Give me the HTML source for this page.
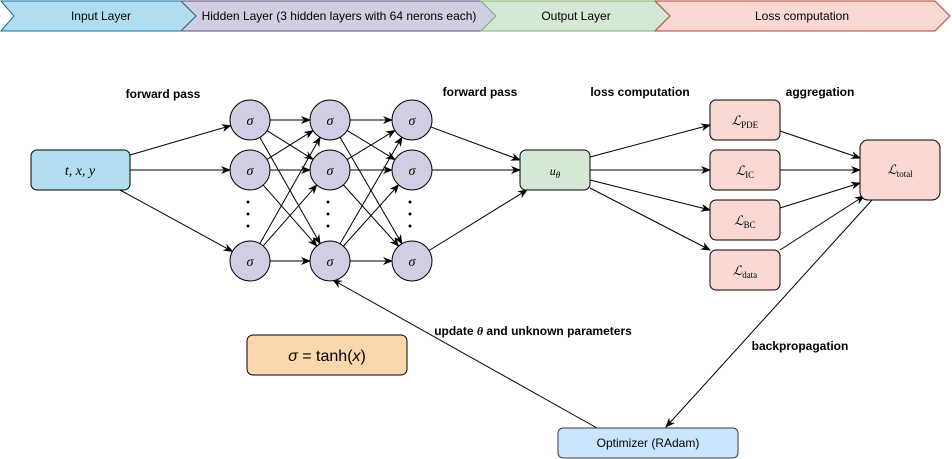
<!DOCTYPE html>
<html><head><meta charset="utf-8"><style>
body{margin:0;background:#fff;width:952px;height:459px;overflow:hidden}
svg{display:block}
text{font-family:"Liberation Sans",sans-serif}
.m{font-family:"Liberation Serif",serif;font-style:italic}
</style></head><body>
<svg id="s" width="952" height="459" viewBox="0 0 952 459" xmlns="http://www.w3.org/2000/svg">
<defs><marker id="a" markerWidth="10" markerHeight="8" refX="9" refY="4" orient="auto" markerUnits="userSpaceOnUse"><path d="M0,0 L10,4 L0,8 L3,4 z" fill="#000"/></marker></defs>
<polygon points="1,1 181,1 196,16 181,31 1,31 14,16" fill="#b1ddf0" stroke="#10739e"/>
<polygon points="181,1 481,1 496,16 481,31 181,31 196,16" fill="#d0cee2" stroke="#56517e"/>
<polygon points="481,1 655,1 670,16 655,31 481,31 496,16" fill="#d5e8d4" stroke="#82b366"/>
<polygon points="655,1 935,1 950,16 935,31 655,31 670,16" fill="#fad9d5" stroke="#ae4132"/>
<g font-size="12" text-anchor="middle" fill="#000">
<text x="101" y="20">Input Layer</text>
<text x="339" y="20">Hidden Layer (3 hidden layers with 64 nerons each)</text>
<text x="576" y="20">Output Layer</text>
<text x="802" y="20">Loss computation</text>
</g>
<g font-size="12" font-weight="bold" text-anchor="middle">
<text x="163" y="98">forward pass</text>
<text x="480" y="96">forward pass</text>
<text x="640" y="96">loss computation</text>
<text x="820" y="96">aggregation</text>
<text x="533" y="335">update <tspan class="m">θ</tspan> and unknown parameters</text>
<text x="800" y="350">backpropagation</text>
</g>
<g id="lines" stroke="#000" stroke-width="1" fill="none"></g>
<rect x="31" y="150" width="99" height="40" rx="6" fill="#b1ddf0" stroke="#000"/>
<text x="80" y="175" class="m" font-size="14" text-anchor="middle">t, x, y</text>
<rect x="520" y="150" width="70" height="40" rx="6" fill="#d5e8d4" stroke="#000"/>
<text x="555" y="175" class="m" font-size="12" text-anchor="middle">u<tspan font-size="9" dy="3">θ</tspan></text>
<g fill="#fad9d5" stroke="#000">
<rect x="710" y="100" width="70" height="40" rx="6"/>
<rect x="710" y="150" width="70" height="40" rx="6"/>
<rect x="710" y="200" width="70" height="40" rx="6"/>
<rect x="710" y="250" width="70" height="40" rx="6"/>
<rect x="860" y="140" width="80" height="60" rx="8"/>
</g>
<g font-size="13" text-anchor="middle">
<text x="745" y="125"><tspan class="m">ℒ</tspan><tspan font-size="9" dy="3" font-family="Liberation Serif">PDE</tspan></text>
<text x="745" y="175"><tspan class="m">ℒ</tspan><tspan font-size="9" dy="3" font-family="Liberation Serif">IC</tspan></text>
<text x="745" y="225"><tspan class="m">ℒ</tspan><tspan font-size="9" dy="3" font-family="Liberation Serif">BC</tspan></text>
<text x="745" y="275"><tspan class="m">ℒ</tspan><tspan font-size="9" dy="3" font-family="Liberation Serif">data</tspan></text>
<text x="900" y="174"><tspan class="m">ℒ</tspan><tspan font-size="9" dy="3" font-family="Liberation Serif">total</tspan></text>
</g>
<g id="nodes"></g>
<rect x="247" y="335" width="160" height="40" rx="6" fill="#fad7ac" stroke="#000"/>
<text x="327" y="361" font-size="16" text-anchor="middle" font-family="Liberation Serif"><tspan font-style="italic">σ</tspan> = tanh(<tspan font-style="italic">x</tspan>)</text>
<rect x="558" y="428" width="180" height="30" rx="5" fill="#cce5ff" stroke="#36393d"/>
<text x="648" y="447" font-size="12" text-anchor="middle">Optimizer (RAdam)</text>
</svg>
<script>
var L=document.getElementById('lines'),N=document.getElementById('nodes'),ns='http://www.w3.org/2000/svg';
function ln(x1,y1,x2,y2,arr){var e=document.createElementNS(ns,'line');e.setAttribute('x1',x1);e.setAttribute('y1',y1);e.setAttribute('x2',x2);e.setAttribute('y2',y2);if(arr!==false)e.setAttribute('marker-end','url(#a)');L.appendChild(e);}
var cols=[250,330,412],rows=[120,170,261],R=20;
function toC(x1,y1,cx,cy,r1){var dx=cx-x1,dy=cy-y1,d=Math.hypot(dx,dy);var sx=x1+dx/d*(r1||0),sy=y1+dy/d*(r1||0);ln(sx,sy,cx-dx/d*R,cy-dy/d*R);}
// input
[[130,155],[130,170],[120,190]].forEach(function(p,i){toC(p[0],p[1],cols[0],rows[i]);});
for(var c=0;c<2;c++)for(var i=0;i<3;i++)for(var j=0;j<3;j++)toC(cols[c],rows[i],cols[c+1],rows[j],R);
// to u
[[520,160],[520,170],[527,190]].forEach(function(p,i){var cx=cols[2],cy=rows[i],dx=p[0]-cx,dy=p[1]-cy,d=Math.hypot(dx,dy);ln(cx+dx/d*R,cy+dy/d*R,p[0],p[1]);});
ln(590,157,710,125);ln(590,170,710,170);ln(590,180,710,210);ln(590,188,710,250);
ln(780,131,860,158);ln(780,170,860,170);ln(780,208,860,183);ln(780,250,864,196);
ln(872,200,666,427);ln(597,428,333,280);
for(var c=0;c<3;c++)for(var i=0;i<3;i++){var e=document.createElementNS(ns,'circle');e.setAttribute('cx',cols[c]);e.setAttribute('cy',rows[i]);e.setAttribute('r',R);e.setAttribute('fill','#d0cee2');e.setAttribute('stroke','#000');N.appendChild(e);
var t=document.createElementNS(ns,'text');t.setAttribute('x',cols[c]);t.setAttribute('y',rows[i]+5);t.setAttribute('text-anchor','middle');t.setAttribute('class','m');t.setAttribute('font-size','14');t.textContent='σ';N.appendChild(t);}
for(var c=0;c<3;c++)for(var k=0;k<3;k++){var d=document.createElementNS(ns,'circle');d.setAttribute('cx',cols[c]-2);d.setAttribute('cy',202+k*12);d.setAttribute('r',1.5);d.setAttribute('fill','#000');N.appendChild(d);}
</script>
</body></html>
